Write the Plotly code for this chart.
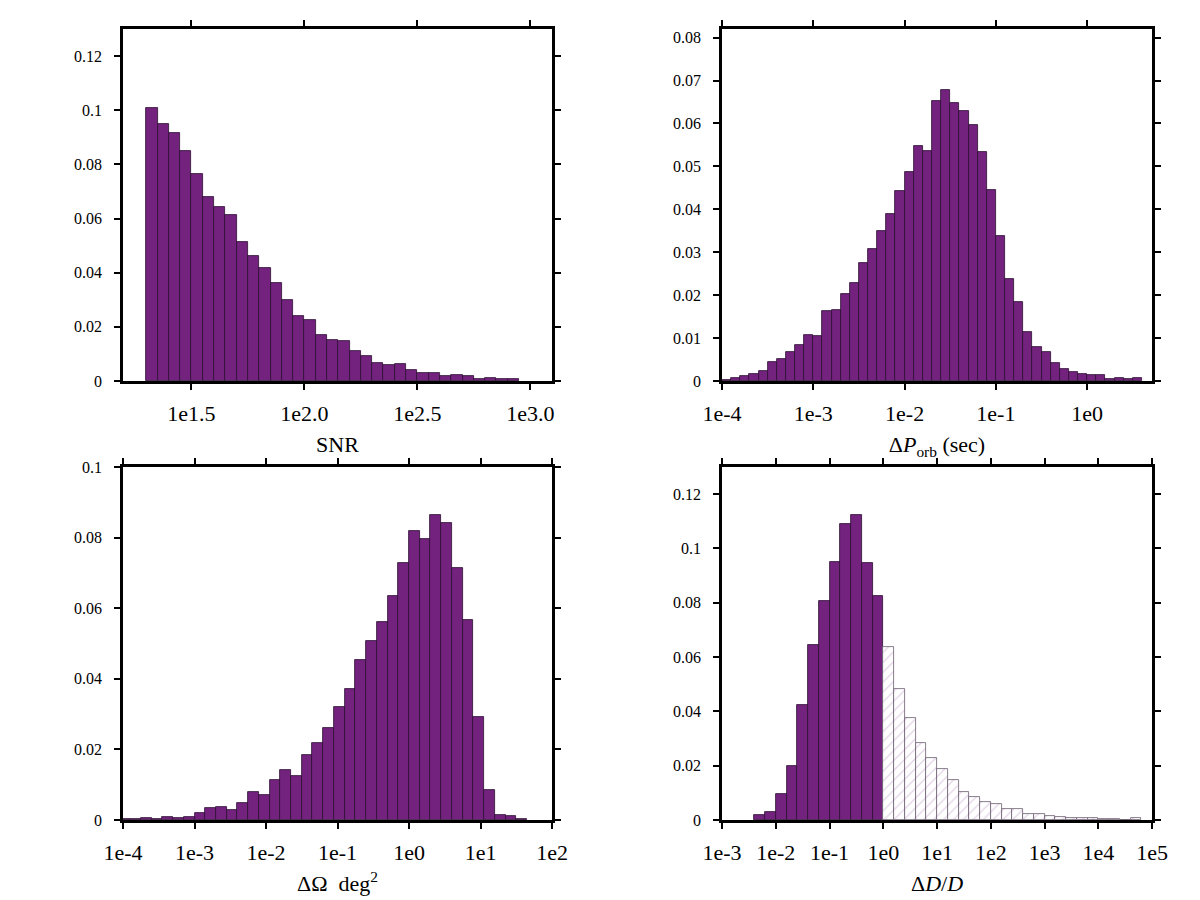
import numpy as np
import plotly.graph_objects as go

# ---------------- data (histogram heights) ----------------
# Panel 1: SNR, log10 bins of width 0.05 starting at 1.30
snr_start, snr_step = 1.30, 0.05
snr_vals = [0.1010, 0.0951, 0.0916, 0.0851, 0.0763, 0.0680, 0.0643, 0.0614, 0.0515,
            0.0462, 0.0416, 0.0362, 0.0299, 0.0240, 0.0225, 0.0170, 0.0151, 0.0147,
            0.0109, 0.0091, 0.0067, 0.0058, 0.0063, 0.0040, 0.0030, 0.0030, 0.0017,
            0.0021, 0.0019, 0.0007, 0.0010, 0.0007, 0.0006]

# Panel 2: Delta P_orb, log10 bins of width 0.1 starting at -4.0
porb_start, porb_step = -4.0, 0.1
porb_vals = [0.0002, 0.0007, 0.0011, 0.0016, 0.0023, 0.0045, 0.0052, 0.0067, 0.0083,
             0.0107, 0.0105, 0.0162, 0.0166, 0.0202, 0.0228, 0.0275, 0.0307, 0.0350,
             0.0388, 0.0442, 0.0486, 0.0548, 0.0535, 0.0653, 0.0677, 0.0647, 0.0630,
             0.0597, 0.0534, 0.0445, 0.0338, 0.0238, 0.0184, 0.0113, 0.0079, 0.0068,
             0.0043, 0.0029, 0.0020, 0.0016, 0.0014, 0.0013, 0.0005, 0.0008, 0.0004,
             0.0006]

# Panel 3: Delta Omega, log10 bins of width 0.15 starting at -4.05
om_start, om_step = -4.05, 0.15
om_vals = [0.0003, 0.0002, 0.0005, 0.0003, 0.0009, 0.0006, 0.0009, 0.0020, 0.0033,
           0.0038, 0.0028, 0.0048, 0.0078, 0.0072, 0.0113, 0.0143, 0.0126, 0.0183,
           0.0217, 0.0260, 0.0320, 0.0371, 0.0453, 0.0507, 0.0561, 0.0634, 0.0729,
           0.0818, 0.0797, 0.0863, 0.0840, 0.0714, 0.0567, 0.0293, 0.0084, 0.0013,
           0.0011, 0.0002]

# Panel 4: Delta D / D, log10 bins of width 0.2
dd_step = 0.2
dd_in_start = -2.4       # purple part (Delta D/D < 1)
dd_in_vals = [0.0017, 0.0028, 0.0095, 0.0199, 0.0424, 0.0644, 0.0805, 0.0952, 0.1089,
              0.1122, 0.0946, 0.0826]
dd_out_start = 0.0       # hatched part (Delta D/D > 1)
dd_out_vals = [0.0636, 0.0482, 0.0375, 0.0282, 0.0227, 0.0186, 0.0149, 0.0102, 0.0086,
               0.0068, 0.0058, 0.0041, 0.0041, 0.0022, 0.0021, 0.0016, 0.0012, 0.0007,
               0.0007, 0.0006, 0.0003, 0.0003, 0.0001, 0.0009]

# tick labels
snr_ticks = [1.5, 2.0, 2.5, 3.0]
snr_ticktext = ["1e1.5", "1e2.0", "1e2.5", "1e3.0"]
porb_ticks = [-4, -3, -2, -1, 0]
porb_ticktext = ["1e-4", "1e-3", "1e-2", "1e-1", "1e0"]
om_ticks = [-4, -3, -2, -1, 0, 1, 2]
om_ticktext = ["1e-4", "1e-3", "1e-2", "1e-1", "1e0", "1e1", "1e2"]
dd_ticks = [-3, -2, -1, 0, 1, 2, 3, 4, 5]
dd_ticktext = ["1e-3", "1e-2", "1e-1", "1e0", "1e1", "1e2", "1e3", "1e4", "1e5"]

y_ticks_a = [0, 0.02, 0.04, 0.06, 0.08, 0.1, 0.12]
y_ticktext_a = ["0", "0.02", "0.04", "0.06", "0.08", "0.1", "0.12"]
y_ticks_b = [0, 0.01, 0.02, 0.03, 0.04, 0.05, 0.06, 0.07, 0.08]
y_ticktext_b = ["0", "0.01", "0.02", "0.03", "0.04", "0.05", "0.06", "0.07", "0.08"]
y_ticks_c = [0, 0.02, 0.04, 0.06, 0.08, 0.1]
y_ticktext_c = ["0", "0.02", "0.04", "0.06", "0.08", "0.1"]

# ---------------- styling ----------------
PURPLE = "#73237e"
EDGE = "#2b0d30"
FONT = "Liberation Serif"


def centers(start, step, vals):
    return [round(start + step * (i + 0.5), 6) for i in range(len(vals))]


fig = go.Figure()

def add_bars(start, step, vals, xa, ya, hatched=False):
    kw = dict(
        x=centers(start, step, vals), y=vals, width=[step] * len(vals),
        xaxis=xa, yaxis=ya, showlegend=False, hoverinfo="x+y",
    )
    if hatched:
        kw["marker"] = dict(
            color="white",
            line=dict(color="#6a5a6e", width=0.8),
            pattern=dict(shape="/", fgcolor="#c4a8cc", bgcolor="white",
                         size=7, solidity=0.18),
        )
    else:
        kw["marker"] = dict(color=PURPLE, line=dict(color=EDGE, width=0.8))
    fig.add_trace(go.Bar(**kw))

add_bars(snr_start, snr_step, snr_vals, "x", "y")
add_bars(porb_start, porb_step, porb_vals, "x2", "y2")
add_bars(om_start, om_step, om_vals, "x3", "y3")
add_bars(dd_in_start, dd_step, dd_in_vals, "x4", "y4")
add_bars(dd_out_start, dd_step, dd_out_vals, "x4", "y4", hatched=True)

W, H = 1200, 900
colL = [123 / W, 552 / W]
colR = [722 / W, 1152 / W]
rowT = [1 - 381 / H, 1 - 29 / H]
rowB = [1 - 820 / H, 1 - 467 / H]

axis_common = dict(
    showline=True, linecolor="black", linewidth=2.5, mirror="ticks",
    ticks="outside", ticklen=6, tickwidth=2, tickcolor="black",
    showgrid=False, zeroline=False, fixedrange=True, automargin=False,
)


def xaxis(domain, rng, tv, tt, title, anchor):
    return dict(axis_common, domain=domain, range=rng, tickvals=tv, ticktext=tt,
                anchor=anchor, ticklabelstandoff=5,
                tickfont=dict(family=FONT, size=22, color="black"),
                title=dict(text=title, font=dict(family=FONT, size=22, color="black"),
                           standoff=12))


def yaxis(domain, rng, tv, tt, anchor):
    return dict(axis_common, domain=domain, range=rng, tickvals=tv, ticktext=tt,
                anchor=anchor, ticklabelstandoff=9,
                tickfont=dict(family=FONT, size=16, color="black"))


fig.update_layout(
    width=W, height=H,
    margin=dict(l=0, r=0, t=0, b=0, autoexpand=False),
    paper_bgcolor="white", plot_bgcolor="white",
    bargap=0, barmode="overlay",
    font=dict(family=FONT, color="black"),
    xaxis=xaxis(colL, [1.197, 3.096], snr_ticks, snr_ticktext, "SNR", "y"),
    yaxis=yaxis(rowT, [0, 0.13], y_ticks_a, y_ticktext_a, "x"),
    xaxis2=xaxis(colR, [-4.0, 0.71], porb_ticks, porb_ticktext,
                 "Δ<i>P</i><sub>orb</sub> (sec)", "y2"),
    yaxis2=yaxis(rowT, [0, 0.082], y_ticks_b, y_ticktext_b, "x2"),
    xaxis3=xaxis(colL, [-4.0, 2.0], om_ticks, om_ticktext,
                 "ΔΩ  deg<sup>2</sup>", "y3"),
    yaxis3=yaxis(rowB, [0, 0.1], y_ticks_c, y_ticktext_c, "x3"),
    xaxis4=xaxis(colR, [-3.0, 5.0], dd_ticks, dd_ticktext,
                 "Δ<i>D</i>/<i>D</i>", "y4"),
    yaxis4=yaxis(rowB, [0, 0.13], y_ticks_a, y_ticktext_a, "x4"),
)

fig.write_html("out.html")
